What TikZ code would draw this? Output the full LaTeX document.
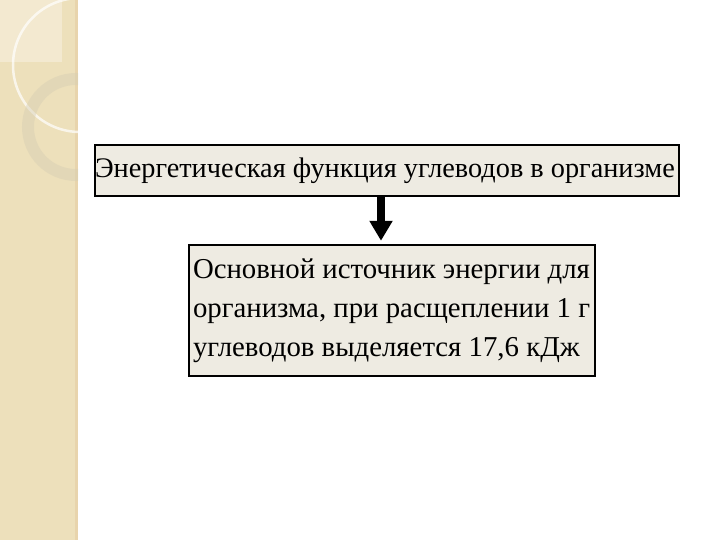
\documentclass[tikz,border=0pt]{standalone}
\usepackage{fontspec}
\setmainfont{Liberation Serif}
\usetikzlibrary{arrows.meta}
\definecolor{stripcol}{RGB}{237,224,187}
\definecolor{stripedge}{RGB}{232,212,172}
\definecolor{cornercol}{RGB}{243,233,208}
\definecolor{ringcol}{RGB}{214,206,180}
\definecolor{boxfill}{RGB}{238,235,226}

\begin{document}
\begin{tikzpicture}[%
  x=1pt,y=-1pt,
  titlebox/.style={draw,line width=2.4pt,fill=boxfill,inner xsep=0pt,inner ysep=0pt,
    text width=584pt,align=flush left,minimum height=51pt,
    font=\rmfamily\fontsize{28.3}{34}\selectfont},
  textbox/.style={draw,line width=2.4pt,fill=boxfill,inner xsep=4pt,inner ysep=9pt,
    text width=398pt,align=flush left,minimum height=131pt,
    font=\rmfamily\fontsize{28.8}{39}\selectfont},
  bigarrow/.style={line width=8pt,-{Triangle[length=20pt,width=22pt]},shorten >=3pt}]
\useasboundingbox (0,0) rectangle (720,540);
\fill[white] (0,0) rectangle (720,540);
\fill[stripcol] (0,0) rectangle (78,540);
\fill[cornercol] (0,0) rectangle (62,62);
\fill[stripedge] (75,0) rectangle (78,540);
\begin{scope}
  \clip (0,0) rectangle (78,540);
  \draw[white,line width=2.5pt,opacity=.7] (80,65) circle[radius=67];
  \draw[ringcol,line width=12pt,opacity=.45] (76,127) circle[radius=48];
\end{scope}
\node[titlebox] (func) at (387,170.5) {Энергетическая функция углеводов в организме};
\node[textbox] (energy) at (392,310.5) {Основной источник энергии для организма, при расщеплении 1 г углеводов выделяется 17,6 кДж};
\coordinate (arrowx) at (381,0);
\draw[bigarrow] (func.south -| arrowx) -- (energy.north -| arrowx);
\end{tikzpicture}
\end{document}
